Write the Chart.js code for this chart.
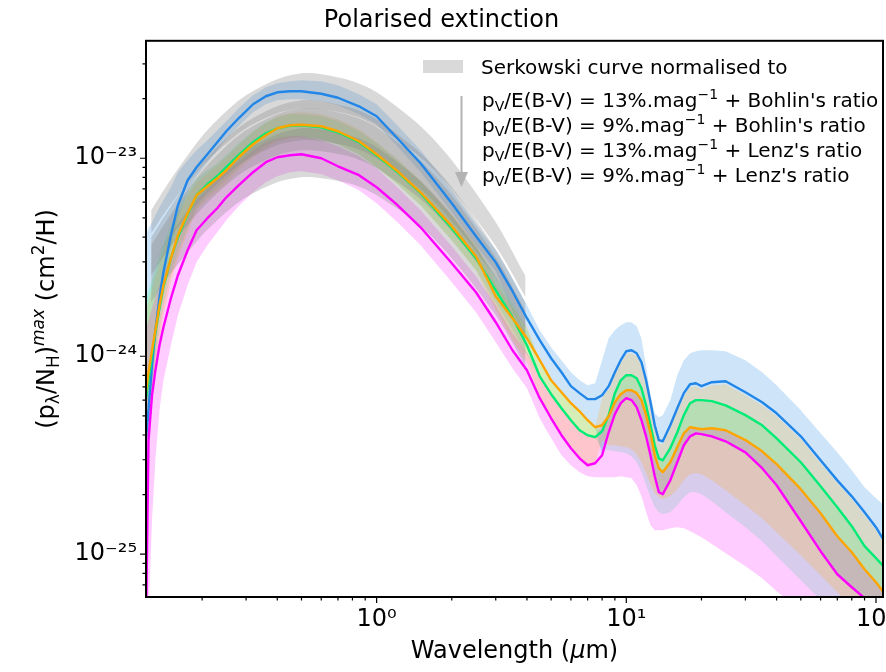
<!DOCTYPE html>
<html>
<head>
<meta charset="utf-8">
<script src="https://cdn.jsdelivr.net/npm/chart.js@4.4.1/dist/chart.umd.min.js"></script>
<style>
html,body{margin:0;padding:0;background:#fff;overflow:hidden;width:886px;height:672px}
#wrap{position:absolute;left:0;top:0;width:910px;height:672px}
</style>
</head>
<body>
<div id="wrap"><canvas id="c" width="910" height="672"></canvas></div>
<script>
// ---------------- data ----------------
const chartTitle = 'Polarised extinction';
const legendTitle = 'Serkowski curve normalised to';
const legendPercents = ['13%', '9%', '13%', '9%'];
const legendRatios = ["Bohlin's ratio", "Bohlin's ratio", "Lenz's ratio", "Lenz's ratio"];

const xMajorTicks = [1, 10, 100];
const xTickLabels = ['10\u2070', '10\u00B9', '10\u00B2'];
const yMajorTicks = [1e-25, 1e-24, 1e-23];
const yTickLabels = ['10\u207B\u00B2\u2075', '10\u207B\u00B2\u2074', '10\u207B\u00B2\u00B3'];

// wavelength grid (micron)
const wavelength = [0.119, 0.122, 0.126, 0.13, 0.135, 0.14, 0.15, 0.16, 0.175, 0.19, 0.21, 0.23, 0.25, 0.28, 0.32, 0.36, 0.4, 0.45, 0.5, 0.6, 0.7, 0.85, 1.0, 1.2, 1.5, 2.0, 2.5, 3.0, 3.5, 4.0, 4.5, 5.0, 5.5, 6.0, 6.5, 7.0, 7.5, 8.0, 8.5, 9.0, 9.5, 10.0, 10.5, 11.0, 11.5, 12.0, 12.5, 13.0, 13.5, 14.0, 15.0, 16.0, 17.0, 18.0, 19.0, 20.0, 22.0, 25.0, 30.0, 35.0, 40.0, 50.0, 60.0, 70.0, 80.0, 90.0, 100.0, 108.0];

// (p/NH)max curves, cm^2/H
const pBohlin13 = [3.77e-25, 5.34e-25, 9.01e-25, 1.353e-24, 1.99e-24, 2.66e-24, 4.08e-24, 5.79e-24, 7.74e-24, 9.01e-24,
 1.048e-23, 1.205e-23, 1.369e-23, 1.592e-23, 1.874e-23, 2.057e-23, 2.154e-23, 2.18e-23, 2.18e-23, 2.117e-23,
 2.021e-23, 1.83e-23, 1.63e-23, 1.277e-23, 9.43e-24, 5.93e-24, 4.04e-24, 2.98e-24, 2.13e-24, 1.556e-24,
 1.205e-24, 9.77e-25, 8.30e-25, 7.06e-25, 6.51e-25, 6.07e-25, 6.07e-25, 6.35e-25, 7.06e-25, 8.30e-25,
 9.55e-25, 1.06e-24, 1.072e-24, 1.036e-24, 9.33e-25, 7.56e-25, 5.86e-25, 4.48e-25, 3.77e-25, 3.72e-25,
 4.48e-25, 5.46e-25, 6.51e-25, 7.22e-25, 7.30e-25, 7.06e-25, 7.39e-25, 7.48e-25, 6.58e-25, 5.86e-25,
 5.15e-25, 3.94e-25, 2.98e-25, 2.36e-25, 1.96e-25, 1.63e-25, 1.369e-25, 1.163e-25];
const pBohlin9 = [6.00e-25, 7.56e-25, 1.012e-24, 1.322e-24, 1.748e-24, 2.23e-24, 3.13e-24, 3.99e-24, 5.21e-24, 6.51e-24,
 7.39e-24, 8.11e-24, 9.01e-24, 1.036e-23, 1.205e-23, 1.337e-23, 1.417e-23, 1.459e-23, 1.468e-23, 1.434e-23,
 1.353e-23, 1.205e-23, 1.036e-23, 8.60e-24, 6.66e-24, 4.43e-24, 3.13e-24, 2.154e-24, 1.574e-24, 1.137e-24,
 7.92e-25, 6.43e-25, 5.46e-25, 4.75e-25, 4.23e-25, 3.99e-25, 3.90e-25, 4.18e-25, 5.04e-25, 6.51e-25,
 7.56e-25, 8.02e-25, 8.02e-25, 7.74e-25, 6.89e-25, 5.65e-25, 4.48e-25, 3.55e-25, 3.05e-25, 2.98e-25,
 3.43e-25, 4.13e-25, 5.04e-25, 5.79e-25, 6.00e-25, 6.00e-25, 5.93e-25, 5.65e-25, 5.04e-25, 4.48e-25,
 3.85e-25, 2.915e-25, 2.205e-25, 1.728e-25, 1.385e-25, 1.098e-25, 9.55e-26, 8.60e-26];
const pLenz13 = [6.51e-25, 8.30e-25, 1.072e-24, 1.353e-24, 1.81e-24, 2.284e-24, 3.13e-24, 4.08e-24, 5.27e-24, 6.51e-24,
 7.22e-24, 7.92e-24, 8.70e-24, 1.012e-23, 1.177e-23, 1.307e-23, 1.417e-23, 1.468e-23, 1.476e-23, 1.451e-23,
 1.369e-23, 1.219e-23, 1.048e-23, 8.70e-24, 6.73e-24, 4.54e-24, 3.20e-24, 2.01e-24, 1.556e-24, 1.233e-24,
 9.55e-25, 7.56e-25, 6.58e-25, 5.79e-25, 5.27e-25, 4.75e-25, 4.38e-25, 4.48e-25, 4.98e-25, 5.86e-25,
 6.43e-25, 6.73e-25, 6.73e-25, 6.51e-25, 6.00e-25, 5.04e-25, 4.08e-25, 3.16e-25, 2.72e-25, 2.595e-25,
 2.915e-25, 3.47e-25, 4.08e-25, 4.38e-25, 4.33e-25, 4.28e-25, 4.33e-25, 4.23e-25, 3.77e-25, 3.31e-25,
 2.85e-25, 2.13e-25, 1.611e-25, 1.233e-25, 1.023e-25, 8.40e-26, 7.22e-26, 6.35e-26];
const pLenz9 = [3.68e-26, 3.77e-25, 6.35e-25, 8.50e-25, 1.137e-24, 1.401e-24, 1.963e-24, 2.566e-24, 3.43e-24, 4.33e-24,
 4.98e-24, 5.59e-24, 6.35e-24, 7.30e-24, 8.50e-24, 9.55e-24, 1.012e-23, 1.036e-23, 1.048e-23, 1.0e-23,
 9.11e-24, 8.21e-24, 7.14e-24, 5.86e-24, 4.48e-24, 2.95e-24, 2.105e-24, 1.485e-24, 1.072e-24, 8.50e-25,
 6.14e-25, 4.86e-25, 3.99e-25, 3.43e-25, 3.05e-25, 2.815e-25, 2.88e-25, 3.16e-25, 4.13e-25, 5.10e-25,
 5.79e-25, 6.14e-25, 6.00e-25, 5.53e-25, 4.75e-25, 3.94e-25, 3.16e-25, 2.477e-25, 2.057e-25, 2.01e-25,
 2.36e-25, 2.915e-25, 3.55e-25, 3.94e-25, 4.08e-25, 4.04e-25, 3.94e-25, 3.72e-25, 3.27e-25, 2.72e-25,
 2.23e-25, 1.468e-25, 1.036e-25, 7.92e-26, 6.81e-26, 6.00e-26, 5.21e-26, 4.75e-26];

// uncertainty envelopes, stored as log10 of the value (same wavelength grid)
const bohlin13HiLog10 = [-23.389, -23.354, -23.323, -23.288, -23.248, -23.212, -23.146, -23.071, -23.010, -22.960, -22.909, -22.859, -22.813, -22.748, -22.682, -22.641, -22.621, -22.611, -22.606, -22.611, -22.631, -22.677, -22.727, -22.828, -22.960, -23.162, -23.333, -23.465, -23.606, -23.742,
 -23.869, -23.955, -24.020, -24.081, -24.121, -24.146, -24.136, -24.020, -23.909, -23.869, -23.843, -23.828, -23.828, -23.849, -23.909, -24.051, -24.197, -24.288, -24.308, -24.298, -24.222, -24.096, -24.020, -23.985, -23.975, -23.970, -23.970, -23.975, -24.020, -24.081, -24.146, -24.273, -24.389, -24.485, -24.576, -24.662, -24.717, -24.753];
const bohlin13LoLog10 = [-24.576, -24.450, -24.197, -23.970, -23.778, -23.641, -23.455, -23.303, -23.172, -23.091, -23.020, -22.960, -22.904, -22.838, -22.768, -22.727, -22.707, -22.702, -22.702, -22.712, -22.732, -22.778, -22.828, -22.934, -23.071, -23.273, -23.439, -23.571, -23.768, -23.909,
 -24.020, -24.121, -24.182, -24.237, -24.278, -24.323, -24.359, -24.500, -24.384, -24.293, -24.237, -24.212, -24.222, -24.258, -24.323, -24.404, -24.500, -24.606, -24.687, -24.697, -24.626, -24.535, -24.450, -24.404, -24.389, -24.394, -24.404, -24.429, -24.485, -24.566, -24.652, -24.833, -24.985, -25.101, -25.167, -25.222, -25.283, -25.323];
const bohlin9HiLog10 = [-23.717, -23.667, -23.616, -23.556, -23.490, -23.429, -23.338, -23.263, -23.172, -23.101, -23.061, -23.025, -22.985, -22.924, -22.864, -22.818, -22.793, -22.778, -22.778, -22.788, -22.813, -22.864, -22.924, -23.005, -23.116, -23.293, -23.444, -23.596, -23.732, -23.869,
 -24.020, -24.121, -24.182, -24.237, -24.278, -24.323, -24.359,
 -24.379, -24.298, -24.187, -24.121, -24.096, -24.096, -24.111, -24.162, -24.248, -24.349, -24.450, -24.515, -24.525, -24.465, -24.384, -24.298, -24.237, -24.222, -24.222, -24.227, -24.248, -24.298, -24.349, -24.414, -24.535, -24.657, -24.763, -24.859, -24.960, -25.020, -25.066];
const bohlin9LoLog10 = [-24.424, -24.323, -24.172, -24.020, -23.869, -23.742, -23.591, -23.475, -23.354, -23.253, -23.192, -23.152, -23.106, -23.045, -22.980, -22.934, -22.909, -22.894, -22.894, -22.904, -22.929, -22.980, -23.045, -23.126, -23.237, -23.414, -23.566, -23.727, -23.864, -23.995,
 -24.101, -24.192, -24.263, -24.323, -24.374, -24.399, -24.409,
 -24.475, -24.475, -24.480, -24.485, -24.490, -24.505, -24.535, -24.586, -24.652, -24.712, -24.763, -24.788, -24.798, -24.788, -24.753, -24.712, -24.687, -24.687, -24.697, -24.732, -24.788, -24.864, -24.934, -25.010, -25.131, -25.232, -25.318, -25.394, -25.460, -25.520, -25.561];
const lenz13HiLog10 = [-23.768, -23.717, -23.657, -23.591, -23.525, -23.465, -23.364, -23.283, -23.192, -23.121, -23.076, -23.035, -22.995, -22.934, -22.869, -22.823, -22.788, -22.773, -22.768, -22.778, -22.803, -22.854, -22.919, -23.000, -23.111, -23.283, -23.434, -23.636, -23.747, -23.849,
 -24.020, -24.121, -24.182, -24.237, -24.278, -24.323, -24.359,
 -24.212, -24.167, -24.096, -24.035, -23.990, -23.985, -24.000, -24.045, -24.136, -24.248, -24.364, -24.439, -24.444, -24.364, -24.278, -24.202, -24.157, -24.152, -24.167, -24.146, -24.141, -24.197, -24.248, -24.303, -24.419, -24.540, -24.641, -24.722, -24.803, -24.879, -24.949];
const lenz13LoLog10 = [-24.475, -24.374, -24.222, -24.071, -23.919, -23.793, -23.626, -23.505, -23.374, -23.263, -23.207, -23.167, -23.126, -23.061, -22.995, -22.949, -22.914, -22.899, -22.894, -22.904, -22.929, -22.980, -23.045, -23.126, -23.237, -23.414, -23.566, -23.768, -23.919, -24.030,
 -24.212, -24.313, -24.399, -24.465, -24.515, -24.551, -24.540,
 -24.424, -24.450, -24.450, -24.455, -24.460, -24.470, -24.495, -24.535, -24.591, -24.646, -24.692, -24.712, -24.722, -24.707, -24.672, -24.626, -24.596, -24.591, -24.596, -24.626, -24.677, -24.753, -24.818, -24.889, -25.005, -25.106, -25.192, -25.268, -25.333, -25.394, -25.434];
const lenz9HiLog10 = [-23.869, -23.818, -23.758, -23.697, -23.641, -23.591, -23.490, -23.404, -23.303, -23.212, -23.162, -23.111, -23.066, -23.020, -22.960, -22.919, -22.899, -22.889, -22.889, -22.909, -22.939, -22.990, -23.051, -23.141, -23.263, -23.444, -23.596, -23.742, -23.884, -23.980,
 -24.101, -24.192, -24.263, -24.323, -24.374, -24.399, -24.409,
 -24.349, -24.303, -24.232, -24.192, -24.172, -24.172, -24.187, -24.222, -24.298, -24.389, -24.500, -24.566, -24.586, -24.535, -24.460, -24.389, -24.359, -24.364, -24.369, -24.364, -24.374, -24.424, -24.480, -24.545, -24.672, -24.793, -24.909, -24.990, -25.076, -25.141, -25.197];
const lenz9LoLog10 = [-25.737, -25.333, -24.828, -24.525, -24.273, -24.121, -23.945, -23.793, -23.641, -23.525, -23.439, -23.374, -23.313, -23.242, -23.172, -23.121, -23.091, -23.071, -23.066, -23.081, -23.111, -23.162, -23.227, -23.318, -23.439, -23.626, -23.778, -23.929, -24.061, -24.162,
 -24.313, -24.414, -24.500, -24.551, -24.586, -24.606, -24.611,
 -24.611, -24.611, -24.611, -24.606, -24.611, -24.616, -24.652, -24.707, -24.788, -24.854, -24.879, -24.879, -24.879, -24.869, -24.864, -24.869, -24.884, -24.899, -24.914, -24.949, -24.995, -25.061, -25.121, -25.187, -25.283, -25.359, -25.419, -25.475, -25.520, -25.561, -25.591];

// Serkowski envelopes (grey), log10 values
const serkowskiWavelength = [0.125, 0.15, 0.2, 0.25, 0.3, 0.4, 0.5, 0.6, 0.8, 1.0, 1.5, 2.0, 3.0, 3.95];
const serkBohlin13HiLog10 = [-23.263, -23.106, -22.889, -22.763, -22.682, -22.601, -22.571, -22.576, -22.611, -22.667, -22.838, -23.010, -23.323, -23.596];
const serkBohlin13LoLog10 = [-23.379, -23.232, -23.040, -22.924, -22.848, -22.773, -22.748, -22.753, -22.783, -22.838, -22.995, -23.157, -23.444, -23.702];
const serkBohlin9HiLog10 = [-23.399, -23.242, -23.025, -22.899, -22.818, -22.737, -22.707, -22.712, -22.748, -22.803, -22.975, -23.146, -23.460, -23.732];
const serkBohlin9LoLog10 = [-23.540, -23.394, -23.202, -23.086, -23.010, -22.934, -22.909, -22.914, -22.944, -23.000, -23.157, -23.318, -23.606, -23.864];
const serkLenz13HiLog10 = [-23.439, -23.283, -23.066, -22.939, -22.859, -22.778, -22.748, -22.753, -22.788, -22.843, -23.015, -23.187, -23.500, -23.773];
const serkLenz13LoLog10 = [-23.591, -23.444, -23.253, -23.136, -23.061, -22.985, -22.960, -22.965, -22.995, -23.051, -23.207, -23.369, -23.657, -23.914];
const serkLenz9HiLog10 = [-23.540, -23.384, -23.167, -23.040, -22.960, -22.879, -22.848, -22.854, -22.889, -22.944, -23.116, -23.288, -23.601, -23.874];
const serkLenz9LoLog10 = [-23.727, -23.581, -23.389, -23.273, -23.197, -23.121, -23.096, -23.101, -23.131, -23.187, -23.343, -23.505, -23.793, -24.051];

// axis ranges
const xMin = 0.1192, xMax = 106.7;
const yMin = 6.08e-26, yMax = 3.92e-23;

// ---------------- build ----------------
const FONT = '"DejaVu Sans", "Liberation Sans", sans-serif';
Chart.defaults.font.family = FONT;

const fromLog = a => a.map(v => Math.pow(10, v));
const pts = (xs, ys) => xs.map((x, i) => ({ x, y: ys[i] }));

function minorTicks(lo, hi) {
  const out = [];
  for (let e = Math.floor(Math.log10(lo)); e <= Math.ceil(Math.log10(hi)); e++) {
    for (let k = 2; k <= 9; k++) {
      const v = k * Math.pow(10, e);
      if (v > lo && v < hi) out.push(v);
    }
  }
  return out;
}
const xMinorTicks = minorTicks(xMin, xMax);
const yMinorTicks = minorTicks(yMin, yMax);

const C = {
  blue: 'rgb(33,134,232)', green: 'rgb(0,236,118)', orange: 'rgb(255,165,0)', magenta: 'rgb(255,0,255)'
};
const lineDs = (data, color) => ({
  data: pts(wavelength, data), borderColor: color, borderWidth: 2.4, pointRadius: 0,
  fill: false, tension: 0, borderJoinStyle: 'round'
});
const bandPair = (xs, hiLog, loLog, color, tension) => [
  { data: pts(xs, fromLog(hiLog)), borderColor: 'transparent', borderWidth: 0, pointRadius: 0, fill: false, tension },
  { data: pts(xs, fromLog(loLog)), borderColor: 'transparent', borderWidth: 0, pointRadius: 0, fill: '-1', backgroundColor: color, tension }
];

const GREY = 'rgba(128,128,128,0.3)';
const datasets = [
  lineDs(pLenz9, C.magenta),
  lineDs(pLenz13, C.orange),
  lineDs(pBohlin9, C.green),
  lineDs(pBohlin13, C.blue),
  ...bandPair(serkowskiWavelength, serkBohlin13HiLog10, serkBohlin13LoLog10, GREY, 0.3),
  ...bandPair(serkowskiWavelength, serkBohlin9HiLog10, serkBohlin9LoLog10, GREY, 0.3),
  ...bandPair(serkowskiWavelength, serkLenz13HiLog10, serkLenz13LoLog10, GREY, 0.3),
  ...bandPair(serkowskiWavelength, serkLenz9HiLog10, serkLenz9LoLog10, GREY, 0.3),
  ...bandPair(wavelength, lenz13HiLog10, lenz13LoLog10, 'rgba(255,165,0,0.2)', 0),
  ...bandPair(wavelength, lenz9HiLog10, lenz9LoLog10, 'rgba(255,0,255,0.2)', 0),
  ...bandPair(wavelength, bohlin9HiLog10, bohlin9LoLog10, 'rgba(0,255,127,0.2)', 0),
  ...bandPair(wavelength, bohlin13HiLog10, bohlin13LoLog10, 'rgba(30,136,229,0.22)', 0)
];

function labelFor(v, majors, labels) {
  const i = majors.findIndex(m => Math.abs(m - v) / m < 1e-6);
  return i >= 0 ? labels[i] : '';
}

function richText(ctx, segs, x, y, align) {
  let total = 0;
  segs.forEach(s => {
    ctx.font = (s.it ? 'italic ' : '') + s.sz + 'px ' + FONT;
    s.w = ctx.measureText(s.t).width;
    total += s.w;
  });
  let cx = align === 'center' ? x - total / 2 : x;
  segs.forEach(s => {
    ctx.font = (s.it ? 'italic ' : '') + s.sz + 'px ' + FONT;
    ctx.fillText(s.t, cx, y + (s.dy || 0));
    cx += s.w;
  });
}

const decor = {
  id: 'decor',
  afterDatasetsDraw(chart) {
    const { ctx, chartArea: a, scales: { x, y } } = chart;
    ctx.save();
    ctx.strokeStyle = '#000';
    ctx.lineWidth = 1.2;
    ctx.beginPath();
    const tickX = (v, len) => { const p = x.getPixelForValue(v); ctx.moveTo(p, a.bottom); ctx.lineTo(p, a.bottom + len); };
    const tickY = (v, len) => { const p = y.getPixelForValue(v); ctx.moveTo(a.left, p); ctx.lineTo(a.left - len, p); };
    xMinorTicks.forEach(v => tickX(v, 3.5));
    xMajorTicks.forEach(v => tickX(v, 6));
    yMinorTicks.forEach(v => tickY(v, 3.5));
    yMajorTicks.forEach(v => tickY(v, 6));
    ctx.stroke();
    ctx.lineWidth = 2;
    ctx.strokeRect(a.left, a.top, a.right - a.left, a.bottom - a.top);

    // legend
    ctx.fillStyle = GREY;
    ctx.fillRect(423, 60, 40, 13);
    ctx.fillStyle = '#000';
    ctx.textAlign = 'left';
    ctx.textBaseline = 'alphabetic';
    richText(ctx, [{ t: legendTitle, sz: 20 }], 481, 74);
    legendPercents.forEach((pc, i) => {
      richText(ctx, [
        { t: 'p', sz: 20 }, { t: 'V', sz: 14, dy: 4 },
        { t: '/E(B-V) = ' + pc + '.mag', sz: 20 }, { t: '\u22121', sz: 14, dy: -8 },
        { t: ' + ' + legendRatios[i], sz: 20 }
      ], 482, 106.5 + 25 * i);
    });
    // arrow
    ctx.strokeStyle = '#b3b3b3';
    ctx.fillStyle = '#b3b3b3';
    ctx.lineWidth = 2;
    ctx.beginPath(); ctx.moveTo(461.5, 96); ctx.lineTo(461.5, 174); ctx.stroke();
    ctx.beginPath(); ctx.moveTo(455, 172); ctx.lineTo(468, 172); ctx.lineTo(461.5, 187); ctx.closePath(); ctx.fill();

    // axis titles
    ctx.fillStyle = '#000';
    richText(ctx, [
      { t: 'Wavelength (', sz: 24 }, { t: '\u03BC', sz: 24, it: true }, { t: 'm)', sz: 24 }
    ], (a.left + a.right) / 2, 658, 'center');
    ctx.save();
    ctx.translate(54, (a.top + a.bottom) / 2);
    ctx.rotate(-Math.PI / 2);
    richText(ctx, [
      { t: '(p', sz: 24 }, { t: '\u03BB', sz: 17, dy: 5 }, { t: '/N', sz: 24 }, { t: 'H', sz: 17, dy: 5 },
      { t: ')', sz: 24 }, { t: 'max', sz: 17, dy: -10, it: true }, { t: ' (cm', sz: 24 },
      { t: '2', sz: 17, dy: -10 }, { t: '/H)', sz: 24 }
    ], 0, 0, 'center');
    ctx.restore();
    ctx.restore();
  }
};

new Chart(document.getElementById('c'), {
  type: 'line',
  data: { datasets },
  options: {
    responsive: false,
    animation: false,
    events: [],
    layout: { padding: { top: 0, right: 27, bottom: 0, left: 0 } },
    plugins: {
      legend: { display: false },
      tooltip: { enabled: false },
      filler: { drawTime: 'beforeDatasetsDraw' },
      title: {
        display: true, text: chartTitle, color: '#000',
        font: { size: 24, weight: 'normal', family: FONT },
        padding: { top: 6, bottom: 6 }
      }
    },
    scales: {
      x: {
        type: 'logarithmic', position: 'bottom', min: xMin, max: xMax,
        grid: { display: false, drawTicks: false }, border: { display: false },
        afterBuildTicks: s => { s.ticks = xMinorTicks.concat(xMajorTicks).sort((a, b) => a - b).map(v => ({ value: v })); },
        afterFit: s => { s.height = 75; },
        ticks: {
          autoSkip: false, maxRotation: 0, padding: 8, color: '#000',
          font: { size: 24, family: FONT },
          callback: v => labelFor(v, xMajorTicks, xTickLabels)
        }
      },
      y: {
        type: 'logarithmic', position: 'left', min: yMin, max: yMax,
        grid: { display: false, drawTicks: false }, border: { display: false },
        afterBuildTicks: s => { s.ticks = yMinorTicks.concat(yMajorTicks).sort((a, b) => a - b).map(v => ({ value: v })); },
        afterFit: s => { s.width = 146; },
        ticks: {
          autoSkip: false, padding: 9, color: '#000',
          font: { size: 24, family: FONT },
          callback: v => labelFor(v, yMajorTicks, yTickLabels)
        }
      }
    }
  },
  plugins: [decor]
});
</script>
</body>
</html>
